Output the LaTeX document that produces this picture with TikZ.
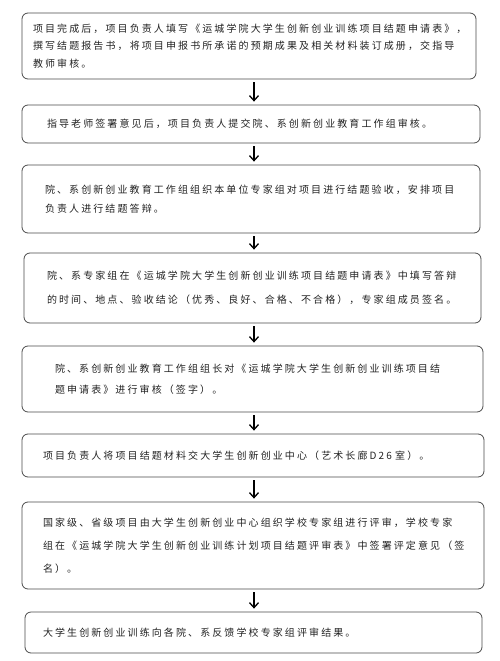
\documentclass[tikz,border=0pt]{standalone}
\usepackage{fontspec}
\newfontfamily\cjk[LetterSpace=21]{Noto Sans CJK SC}
\usetikzlibrary{arrows.meta}
\definecolor{boxgray}{HTML}{4A4A4A}
\definecolor{textgray}{HTML}{222222}
\begin{document}
\begin{tikzpicture}[x=1pt,y=-1pt,
  stepbox/.style={draw=boxgray, rounded corners=6pt, line width=0.8pt, align=left,
    inner ysep=0pt, text=textgray},
  pitch/.style={font=\cjk\fontsize{10}{#1}\selectfont},
  flow/.style={-{Straight Barb[length=5pt,width=9pt,line width=1.3pt]}, line width=1.3pt,
    shorten <=3pt, shorten >=3pt}]
\useasboundingbox (0,0) rectangle (500,661);

\node[stepbox, pitch=17.5, text width=432pt, inner xsep=11pt, minimum height=66pt] (b1) at (249,46)
  {项目完成后，项目负责人填写《运城学院大学生创新创业训练项目结题申请表》，\\撰写结题报告书，将项目申报书所承诺的预期成果及相关材料装订成册，交指导\\教师审核。};
\node[stepbox, pitch=17.5, text width=408pt, inner xsep=25pt, minimum height=38pt] (b2) at (251,124)
  {指导老师签署意见后，项目负责人提交院、系创新创业教育工作组审核。};
\node[stepbox, pitch=18.5, text width=412pt, inner xsep=23pt, minimum height=68pt] (b3) at (251,199)
  {院、系创新创业教育工作组组织本单位专家组对项目进行结题验收，安排项目\\负责人进行结题答辩。};
\node[stepbox, pitch=24.5, text width=411pt, inner xsep=23pt, minimum height=70pt] (b4) at (252.5,288)
  {院、系专家组在《运城学院大学生创新创业训练项目结题申请表》中填写答辩\\的时间、地点、验收结论（优秀、良好、合格、不合格），专家组成员签名。};
\node[stepbox, pitch=21, text width=395pt, inner xsep=33pt, minimum height=66pt] (b5) at (252.5,379)
  {院、系创新创业教育工作组组长对《运城学院大学生创新创业训练项目结\\题申请表》进行审核（签字）。};
\node[stepbox, pitch=18, text width=420pt, inner xsep=21pt, minimum height=43pt] (b6) at (253,455.5)
  {项目负责人将项目结题材料交大学生创新创业中心（艺术长廊D26 室）。};
\node[stepbox, pitch=23, text width=420pt, inner xsep=21pt, minimum height=87pt] (b7) at (253,545.5)
  {国家级、省级项目由大学生创新创业中心组织学校专家组进行评审，学校专家\\组在《运城学院大学生创新创业训练计划项目结题评审表》中签署评定意见（签\\名）。};
\node[stepbox, pitch=18, text width=421pt, inner xsep=18pt, minimum height=41pt] (b8) at (253.5,632.5)
  {大学生创新创业训练向各院、系反馈学校专家组评审结果。};

\coordinate (axis) at (254,0);
\draw[flow] (b1.south -| axis) -- (b2.north -| axis);
\draw[flow] (b2.south -| axis) -- (b3.north -| axis);
\draw[flow] (b3.south -| axis) -- (b4.north -| axis);
\draw[flow] (b4.south -| axis) -- (b5.north -| axis);
\draw[flow] (b5.south -| axis) -- (b6.north -| axis);
\draw[flow] (b6.south -| axis) -- (b7.north -| axis);
\draw[flow] (b7.south -| axis) -- (b8.north -| axis);
\end{tikzpicture}
\end{document}
